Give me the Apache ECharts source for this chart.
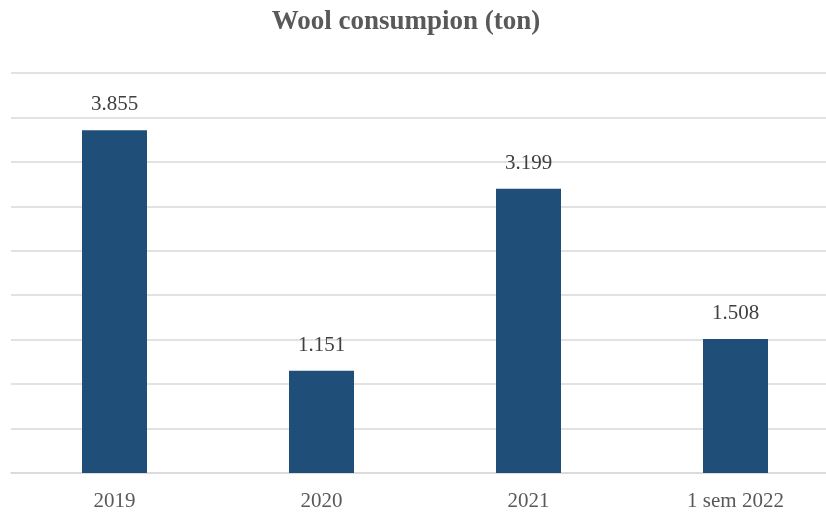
<!DOCTYPE html>
<html>
<head>
<meta charset="utf-8">
<script src="https://cdn.jsdelivr.net/npm/echarts@6/dist/echarts.min.js"></script>
<style>
  html, body { margin: 0; padding: 0; background: #fff; }
  #chart { width: 826px; height: 515px; }
</style>
</head>
<body>
<div id="chart"></div>
<script>
// 数据
const categories = ['2019', '2020', '2021', '1 sem 2022'];
const values = [3.855, 1.151, 3.199, 1.508];
const labels = ['3.855', '1.151', '3.199', '1.508'];

const chart = echarts.init(document.getElementById('chart'));

const option = {
  backgroundColor: '#fff',
  title: {
    text: 'Wool consumpion (ton)',
    left: 401,
    textAlign: 'center',
    top: 4,
    textStyle: {
      fontFamily: 'Liberation Serif',
      fontSize: 27,
      fontWeight: 'bold',
      color: '#595959'
    }
  },
  grid: {
    left: 11,
    width: 828,   // 网格超出右边界，与原图一致
    top: 73,
    height: 400,
    containLabel: false,
    outerBoundsMode: 'none'
  },
  xAxis: {
    type: 'category',
    data: categories,
    axisTick: { show: false },
    axisLine: { lineStyle: { color: '#d9d9d9', width: 1.5 } },
    axisLabel: {
      margin: 18,
      fontFamily: 'Liberation Serif',
      fontSize: 21,
      color: '#595959'
    }
  },
  yAxis: {
    type: 'value',
    min: 0,
    max: 4.5,
    interval: 0.5,
    axisLabel: { show: false },
    axisLine: { show: false },
    axisTick: { show: false },
    splitLine: { lineStyle: { color: '#d9d9d9', width: 1.5 } }
  },
  series: [{
    type: 'bar',
    data: values,
    barWidth: 65,
    itemStyle: { color: '#1f4e79' },
    label: {
      show: true,
      position: 'top',
      distance: 15,
      fontFamily: 'Liberation Serif',
      fontSize: 21,
      color: '#404040',
      formatter: function (p) { return labels[p.dataIndex]; }
    }
  }]
};

chart.setOption(option);
</script>
</body>
</html>
